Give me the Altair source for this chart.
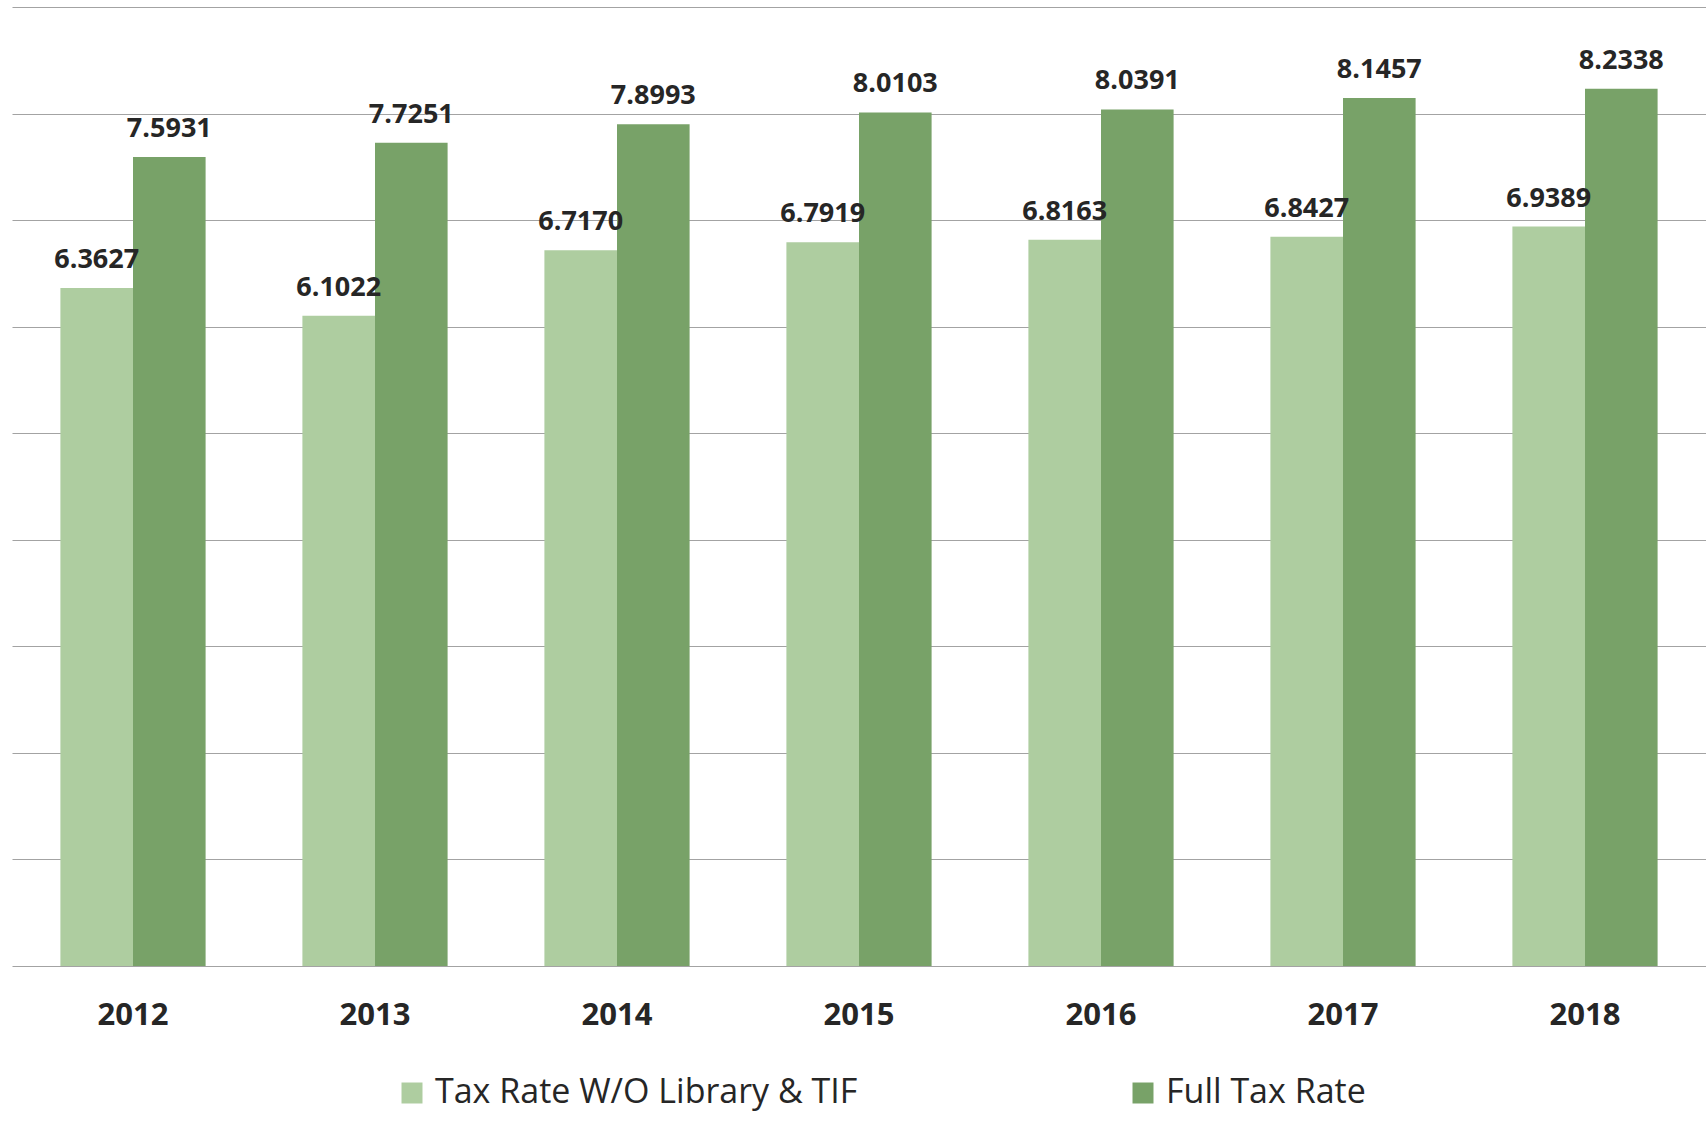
import altair as alt
import pandas as pd

years = ["2012", "2013", "2014", "2015", "2016", "2017", "2018"]
rate_wo = [6.3627, 6.1022, 6.7170, 6.7919, 6.8163, 6.8427, 6.9389]
rate_full = [7.5931, 7.7251, 7.8993, 8.0103, 8.0391, 8.1457, 8.2338]
series = ["Tax Rate W/O Library & TIF", "Full Tax Rate"]
colors = ["#aecda0", "#78a268"]
grid_values = [0, 1, 2, 3, 4, 5, 6, 7, 8, 9]

rows = []
for i, yr in enumerate(years):
    rows.append({"year": yr, "series": series[0], "value": rate_wo[i]})
    rows.append({"year": yr, "series": series[1], "value": rate_full[i]})
df = pd.DataFrame(rows)

x = alt.X(
    "year:N",
    sort=years,
    scale=alt.Scale(paddingInner=0.4, paddingOuter=0.2),
    axis=alt.Axis(
        title=None,
        labelAngle=0,
        domain=False,
        ticks=False,
        tickSize=0,
        labelFont="Open Sans",
        labelFontWeight="bold",
        labelFontSize=31,
        labelColor="#262626",
        labelBaseline="alphabetic",
        labelPadding=58,
        grid=False,
    ),
)
xoff = alt.XOffset("series:N", sort=series, scale=alt.Scale(paddingInner=0, paddingOuter=0))
y = alt.Y(
    "value:Q",
    scale=alt.Scale(domain=[0, 9], nice=False, zero=True),
    axis=alt.Axis(
        title=None,
        labels=False,
        ticks=False,
        domain=False,
        values=grid_values,
        grid=True,
        gridColor="#a3a3a3",
        gridWidth=1,
    ),
)
color = alt.Color(
    "series:N",
    sort=series,
    scale=alt.Scale(domain=series, range=colors),
    legend=alt.Legend(
        title=None,
        orient="none",
        legendX=383,
        legendY=1069,
        direction="horizontal",
        symbolType="square",
        symbolSize=441,
        symbolStrokeWidth=0,
        labelFont="Open Sans",
        labelFontSize=34,
        labelColor="#262626",
        labelLimit=2000,
        columnPadding=268,
        labelOffset=6,
        padding=0,
    ),
)

base = alt.Chart(df).encode(x=x, xOffset=xoff, y=y)

bars = base.mark_bar().encode(color=color)

labels = base.mark_text(
    baseline="alphabetic",
    align="center",
    dy=-20,
    font="Open Sans",
    fontWeight="bold",
    fontSize=27,
    color="#262626",
).encode(text=alt.Text("value:Q", format=".4f"))

chart = (
    alt.layer(bars, labels)
    .properties(
        width=1694,
        height=959,
        autosize=alt.AutoSizeParams(type="none"),
        padding={"left": 12, "top": 7, "right": 0, "bottom": 156},
        background="white",
    )
    .configure_view(stroke=None)
)

chart.save("out.html", embed_options={"renderer": "svg", "actions": False})
